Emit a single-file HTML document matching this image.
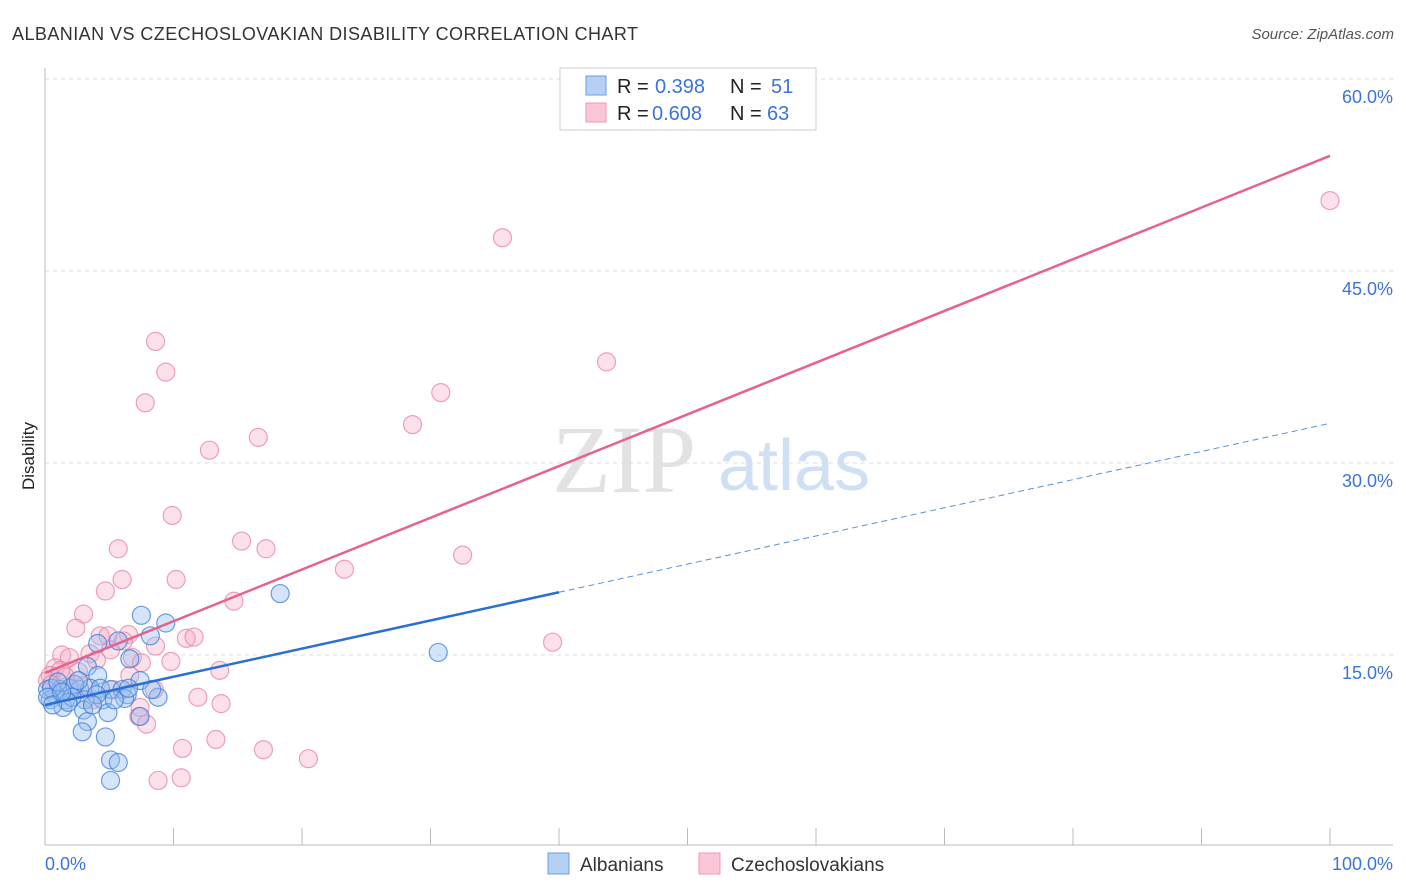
<!DOCTYPE html>
<html><head><meta charset="utf-8"><style>
body{margin:0;background:#fff;font-family:"Liberation Sans",sans-serif}
svg{display:block}
</style></head><body>
<svg id="c" width="1406" height="892">
<text x="12" y="40" font-size="18" fill="#333" textLength="626">ALBANIAN VS CZECHOSLOVAKIAN DISABILITY CORRELATION CHART</text>
<text x="1394" y="39" font-size="15" fill="#555" font-style="italic" text-anchor="end">Source: ZipAtlas.com</text>
<text x="34" y="456" font-size="17" fill="#222" transform="rotate(-90 34 456)" text-anchor="middle">Disability</text>
<g><text x="552" y="492" font-size="96" font-family="Liberation Serif,serif" fill="#e2e2e2">ZIP</text><text x="718" y="490" font-size="72" fill="#cfe0f5">atlas</text></g>
<g id="grid"></g><g id="marks"></g>
<g>
<rect x="560" y="68" width="256" height="62" fill="#fff" stroke="#ccc"/>
<rect x="586" y="76" width="20" height="19" fill="#b5d0f3" stroke="#6a9ee0"/>
<rect x="586" y="103" width="20" height="19" fill="#fac5d5" stroke="#ee9ab5"/>
<text y="93" font-size="20" fill="#222"><tspan x="617">R = </tspan><tspan x="655" fill="#3b74d8">0.398</tspan><tspan x="730">N = </tspan><tspan x="771" fill="#3b74d8">51</tspan></text>
<text y="120" font-size="20" fill="#222"><tspan x="617">R = </tspan><tspan x="652" fill="#3b74d8">0.608</tspan><tspan x="730">N = </tspan><tspan x="767" fill="#3b74d8">63</tspan></text>
</g>
<g>
<rect x="548" y="853" width="21" height="21" fill="#b5d0f3" stroke="#6a9ee0"/>
<text x="580" y="871" font-size="19" fill="#333">Albanians</text>
<rect x="699" y="853" width="21" height="21" fill="#fac5d5" stroke="#ee9ab5"/>
<text x="731" y="871" font-size="19" fill="#333">Czechoslovakians</text>
</g>
</svg>
<script>
const yTicks=[15,30,45,60];
const xTickLabels=["0.0%","100.0%"];
const blueX=[7.5,9.4,18.3,30.6,8.2,4.1,6.6,5.7,3.3,4.1,1.2,1.9,2.7,3.5,4.3,5.1,6.0,6.4,7.4,8.8,8.3,0.8,0.4,1.6,2.3,3.1,4.5,4.9,3.0,1.4,3.3,2.9,4.7,5.1,5.7,5.1,7.4,6.2,0.2,0.5,1.0,4.0,5.4,2.1,1.8,2.6,3.7,0.2,0.6,6.5,1.3];
const blueY=[18.1,17.5,19.8,15.2,16.5,15.9,14.7,16.1,14.1,13.4,12.3,12.4,12.3,12.4,12.4,12.3,12.3,11.9,13.0,11.7,12.3,11.9,11.5,11.5,12.7,11.5,11.5,10.5,10.7,10.9,9.8,9.0,8.6,6.8,6.6,5.2,10.2,11.6,12.3,12.4,12.9,11.9,11.5,11.7,11.3,13.0,11.1,11.7,11.1,12.4,12.1];
const pinkX=[100,35.6,43.7,8.6,9.4,7.8,30.8,28.6,16.6,12.8,9.9,15.3,17.2,5.7,32.5,23.3,10.2,6.0,4.7,14.7,3.0,2.4,39.5,11.0,11.6,4.3,4.9,6.5,6.1,8.6,6.8,9.8,13.6,3.5,1.3,1.9,0.8,0.4,0.2,1.2,2.6,1.6,5.1,7.5,8.5,3.0,3.7,11.9,13.7,7.4,7.3,7.9,10.7,13.3,17.0,20.5,8.8,10.6,5.3,4.0,6.6,0.5,2.1];
const pinkY=[50.5,47.6,37.9,39.5,37.1,34.7,35.5,33.0,32.0,31.0,25.9,23.9,23.3,23.3,22.8,21.7,20.9,20.9,20.0,19.2,18.2,17.1,16.0,16.3,16.4,16.5,16.5,16.6,16.1,15.7,14.8,14.5,13.8,15.1,15.0,14.8,14.0,13.4,13.0,13.8,13.7,13.3,15.4,14.4,12.3,12.6,11.5,11.7,11.2,10.9,10.2,9.6,7.7,8.4,7.6,6.9,5.2,5.4,12.3,14.6,13.4,12.7,12.3];
const blueLine=[11.1,33.1];
const blueSolidEnd=40;
const pinkLine=[13.6,54.0];
const NS="http://www.w3.org/2000/svg";
const sx=v=>45+v*12.85, sy=v=>847-v*192/15;
function mk(t,a,p){const e=document.createElementNS(NS,t);for(const k in a)e.setAttribute(k,a[k]);p.appendChild(e);return e;}
const g=document.getElementById('grid'), m=document.getElementById('marks');
yTicks.forEach(t=>{
 const l=mk('line',{x1:45,x2:1393,y1:sy(t),y2:sy(t),stroke:'#ddd','stroke-dasharray':'4,4'},g);
 
 
 const tx=mk('text',{x:1393,y:sy(t)+24,'font-size':18,fill:'#3b74d8','text-anchor':'end'},g);tx.textContent=t.toFixed(1)+'%';
 
 
});
const ax=mk('line',{x1:45,x2:45,y1:68,y2:845,stroke:'#bbb'},g);


const bx=mk('line',{x1:45,x2:1393,y1:845,y2:845,stroke:'#bbb'},g);


for(let i=0;i<=10;i++){const t=mk('line',{x1:sx(i*10),x2:sx(i*10),y1:828,y2:845,stroke:'#bbb'},g);
 
 }
[[0,'start',45],[1,'end',1393]].forEach(([i,a,x])=>{const t=mk('text',{x:x,y:870,'font-size':18,fill:'#3b74d8','text-anchor':a},g);t.textContent=xTickLabels[i];
 
 });
pinkX.forEach((x,i)=>{const c=mk('circle',{cx:sx(x),cy:sy(pinkY[i]),r:9,fill:'rgba(246,170,195,0.35)',stroke:'rgba(232,130,165,0.75)','stroke-width':1.2},m);
 
 });
blueX.forEach((x,i)=>{const c=mk('circle',{cx:sx(x),cy:sy(blueY[i]),r:9,fill:'rgba(150,190,240,0.4)',stroke:'rgba(60,125,215,0.75)','stroke-width':1.2},m);
 
 });
const bl=v=>blueLine[0]+(blueLine[1]-blueLine[0])*v/100;
const l1=mk('line',{x1:sx(0),y1:sy(bl(0)),x2:sx(blueSolidEnd),y2:sy(bl(blueSolidEnd)),stroke:'#2a6fd6','stroke-width':2.5},m);


const l2=mk('line',{x1:sx(blueSolidEnd),y1:sy(bl(blueSolidEnd)),x2:sx(100),y2:sy(bl(100)),stroke:'#5a8fdc','stroke-width':1,'stroke-dasharray':'6,4'},m);


const l3=mk('line',{x1:sx(0),y1:sy(pinkLine[0]),x2:sx(100),y2:sy(pinkLine[1]),stroke:'#e5628e','stroke-width':2.5},m);


</script>
</body></html>
